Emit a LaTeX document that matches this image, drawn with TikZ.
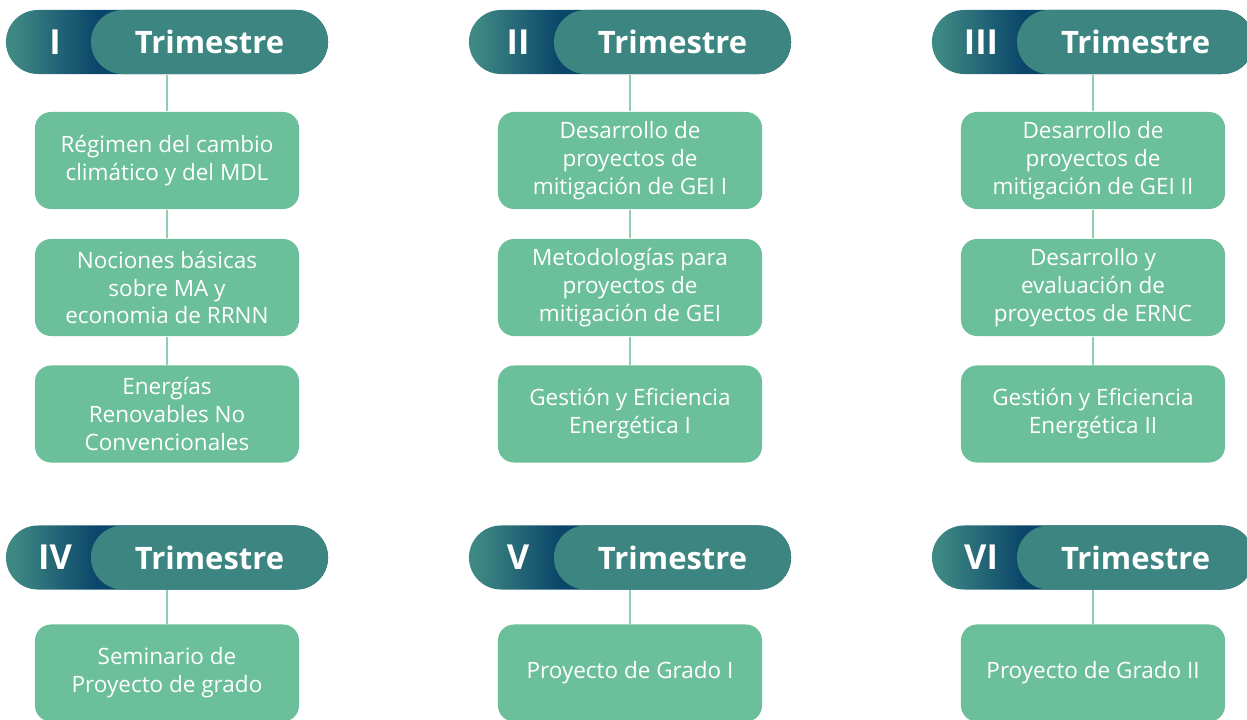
\documentclass[tikz,border=0pt]{standalone}
\usepackage{fontspec}
\setmainfont{Open Sans}
\usepackage{xcolor}
\definecolor{Plan-teal}{RGB}{63, 137, 132}
\definecolor{Plan-navy}{RGB}{11, 70, 106}
\definecolor{Plan-tag}{RGB}{61, 133, 128}
\definecolor{Plan-green}{RGB}{108, 191, 155}
\definecolor{Plan-line}{RGB}{141, 207, 176}
\usetikzlibrary{positioning}
\pgfdeclarehorizontalshading{pillfade}{100bp}{color(0bp)=(Plan-teal); color(26bp)=(Plan-teal); color(39bp)=(Plan-navy); color(100bp)=(Plan-navy)}

\begin{document}
\begin{tikzpicture} [
    x=0.025cm, y=-0.025cm, line width=1.1pt,
    pill/.style = {rectangle,rounded corners=0.8cm,minimum width=8.05cm,minimum height=1.6cm,shading=pillfade},
    tag/.style = {rectangle,rounded corners=0.8cm,minimum width=5.925cm,minimum height=1.6cm,fill=Plan-tag,text=white,font=\fontsize{22}{26}\selectfont\bfseries},
    num/.style = {text=white,font=\fontsize{24.5}{28}\selectfont\bfseries},
    box/.style = {rectangle,rounded corners=0.4cm,minimum width=6.6cm,minimum height=2.425cm,fill=Plan-green,text=white,align=center,font=\fontsize{16}{19.85}\selectfont},
    link/.style = {draw=Plan-line}
    ]

    \useasboundingbox (0,0) rectangle (1247,720);

    \def \xarray{{167, 630, 1093}}
    \def \yarray{{42, 160.5, 287.5, 414, 557.5, 673}}

    \foreach \k/\n/\c/\r in {1/I/0/0, 2/II/1/0, 3/III/2/0, 4/IV/0/4, 5/V/1/4, 6/VI/2/4}
        {
            \node (pill\k) [pill] at (\xarray[\c], \yarray[\r]) {};
            \node (tag\k) [tag] at (\xarray[\c]+42.5, \yarray[\r]) {Trimestre};
            \node (num\k) [num] at (\xarray[\c]-112, \yarray[\r]) {\n};
        }

    \node (b11) [box] at (\xarray[0], \yarray[1]) {Régimen del cambio\\climático y del MDL};
    \node (b12) [box] at (\xarray[0], \yarray[2]) {Nociones básicas\\sobre MA y\\economia de RRNN};
    \node (b13) [box] at (\xarray[0], \yarray[3]) {Energías\\Renovables No\\Convencionales};

    \node (b21) [box] at (\xarray[1], \yarray[1]) {Desarrollo de\\proyectos de\\mitigación de GEI I};
    \node (b22) [box] at (\xarray[1], \yarray[2]) {Metodologías para\\proyectos de\\mitigación de GEI};
    \node (b23) [box] at (\xarray[1], \yarray[3]) {Gestión y Eficiencia\\Energética I};

    \node (b31) [box] at (\xarray[2], \yarray[1]) {Desarrollo de\\proyectos de\\mitigación de GEI II};
    \node (b32) [box] at (\xarray[2], \yarray[2]) {Desarrollo y\\evaluación de\\proyectos de ERNC};
    \node (b33) [box] at (\xarray[2], \yarray[3]) {Gestión y Eficiencia\\Energética II};

    \node (b41) [box] at (\xarray[0], \yarray[5]) {Seminario de\\Proyecto de grado};
    \node (b51) [box] at (\xarray[1], \yarray[5]) {Proyecto de Grado I};
    \node (b61) [box] at (\xarray[2], \yarray[5]) {Proyecto de Grado II};

    \foreach \k in {1,2,3}
        {
            \draw[link] (pill\k) -- (b\k1);
            \draw[link] (b\k1) -- (b\k2);
            \draw[link] (b\k2) -- (b\k3);
        }
    \foreach \k in {4,5,6}
        \draw[link] (pill\k) -- (b\k1);

\end{tikzpicture}
\end{document}
